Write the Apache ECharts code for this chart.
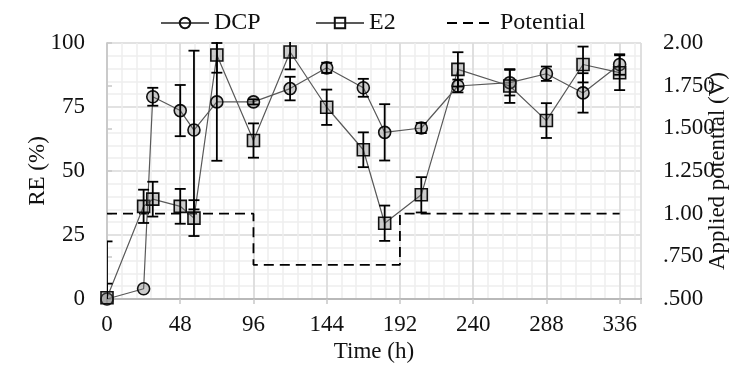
<!DOCTYPE html>
<html>
<head>
<meta charset="utf-8">
<script src="https://cdn.jsdelivr.net/npm/echarts@6/dist/echarts.min.js"></script>
<style>
  html, body {margin: 0; padding: 0; background: #fff;}
  #chart {width: 729px; height: 374px;}
</style>
</head>
<body>
<div id="chart"></div>
<script>
// 采样时间 (h)
const timeH = [0, 24, 30, 48, 57, 72, 96, 120, 144, 168, 182, 206, 230, 264, 288, 312, 336]
// DCP 去除率及误差
const dcpRE = [0, 4, 79, 73.6, 66, 77, 77, 82.2, 90.3, 82.5, 65.1, 66.8, 83.2, 84.5, 88, 80.5, 91.6]
const dcpErr = [6, 0, 3.5, 10, 31, 23, 1, 4.6, 2, 3.5, 11, 2, 2.5, 5, 2.8, 7.7, 4]
// E2 去除率及误差
const e2RE = [0.5, 36.2, 39, 36.2, 31.6, 95.3, 61.9, 96.5, 74.9, 58.3, 29.6, 40.7, 89.7, 83.2, 69.7, 91.6, 88.4]
const e2Err = [22, 6.5, 6.8, 6.8, 7, 6.9, 6.7, 6.8, 6.9, 6.8, 6.9, 6.9, 6.7, 6.6, 6.8, 7, 6.8]
// 施加电位 (V)
const potTime = [0, 96, 96, 192, 192, 336]
const potV = [1.0, 1.0, 0.7, 0.7, 1.0, 1.0]
// 右轴刻度文字（保留原图写法）
const rightLabels = {'2': '2.00', '1.75': '1.750', '1.5': '1.500', '1.25': '1.250', '1': '1.00', '0.75': '.750', '0.5': '.500'}

const font = "'Liberation Serif', 'Times New Roman', serif"
const txt = {color: '#111', fontFamily: font, fontSize: 23}
const legendTxt = {color: '#111', fontFamily: font, fontSize: 24}

// 误差棒
const errSeries = (vals, errs) => ({
  type: 'custom',
  xAxisIndex: 1,
  yAxisIndex: 0,
  z: 4,
  silent: true,
  data: timeH.map((t, i) => [t, vals[i] - errs[i], vals[i] + errs[i]]).filter((d, i) => errs[i] > 0),
  encode: {x: 0, y: [1, 2]},
  renderItem: (params, api) => {
    const x = api.value(0)
    const lo = api.coord([x, api.value(1)])
    const hi = api.coord([x, api.value(2)])
    const w = 5.5
    const cs = params.coordSys
    const st = {stroke: '#000', lineWidth: 1.8}
    return {
      type: 'group',
      clipPath: {type: 'rect', shape: {x: cs.x, y: cs.y - 1, width: cs.width, height: cs.height + 1}},
      children: [
        {type: 'line', shape: {x1: lo[0], y1: lo[1], x2: hi[0], y2: hi[1]}, style: st},
        {type: 'line', shape: {x1: hi[0] - w, y1: hi[1], x2: hi[0] + w, y2: hi[1]}, style: st},
        {type: 'line', shape: {x1: lo[0] - w, y1: lo[1], x2: lo[0] + w, y2: lo[1]}, style: st},
      ],
    }
  },
})

const legendBase = {top: 6, itemWidth: 48, itemHeight: 13, itemGap: 0, textStyle: legendTxt}

const chart = echarts.init(document.getElementById('chart'))
chart.setOption({
  animation: false,
  grid: {left: 107, right: 88, top: 43, bottom: 75, outerBoundsMode: 'none'},
  legend: [
    {...legendBase, left: 155, data: [{name: 'DCP', itemStyle: {color: 'rgba(0,0,0,0)'}}]},
    {...legendBase, left: 310, data: [{name: 'E2', itemStyle: {color: 'rgba(0,0,0,0)'}}]},
    {...legendBase, left: 441, data: [{name: 'Potential', itemStyle: {color: 'rgba(0,0,0,0)', borderWidth: 0}}]},
  ],
  xAxis: [
    {
      // 次网格线 + 顶部边框
      type: 'value',
      min: 0,
      max: 350,
      interval: 9.6,
      position: 'top',
      axisLine: {show: true, lineStyle: {color: '#8c8c8c', width: 2}},
      axisTick: {show: false},
      axisLabel: {show: false},
      splitLine: {show: true, lineStyle: {color: '#eeeeee', width: 1.5}},
    },
    {
      type: 'value',
      min: 0,
      max: 350,
      interval: 48,
      position: 'bottom',
      name: 'Time (h)',
      nameLocation: 'middle',
      nameGap: 41,
      nameTextStyle: txt,
      axisLine: {show: true, onZero: false, lineStyle: {color: '#c8c8c8', width: 1.5}},
      axisTick: {show: true, length: 5, lineStyle: {color: '#c8c8c8', width: 1.5}},
      axisLabel: {...txt, margin: 14, formatter: (v) => (v > 340 ? '' : v)},
      splitLine: {show: true, lineStyle: {color: '#d9d9d9', width: 1.5}},
    },
  ],
  yAxis: [
    {
      type: 'value',
      min: 0,
      max: 100,
      interval: 25,
      position: 'left',
      name: 'RE (%)',
      nameLocation: 'middle',
      nameRotate: 90,
      nameGap: 58,
      nameMoveOverlap: false,
      nameTextStyle: txt,
      axisLine: {show: true, lineStyle: {color: '#c8c8c8', width: 1.5}},
      axisTick: {show: false},
      axisLabel: {...txt, margin: 22},
      splitLine: {show: true, lineStyle: {color: '#d9d9d9', width: 1.5}},
      minorTick: {show: false, splitNumber: 5},
      minorSplitLine: {show: true, lineStyle: {color: '#eeeeee', width: 1.5}},
    },
    {
      type: 'value',
      min: 0.5,
      max: 2,
      interval: 0.25,
      position: 'right',
      name: 'Applied potential (V)',
      nameLocation: 'middle',
      nameRotate: 90,
      nameGap: 65,
      nameMoveOverlap: false,
      nameTextStyle: txt,
      axisLine: {show: true, lineStyle: {color: '#c8c8c8', width: 1.5}},
      axisTick: {show: true, length: 5, lineStyle: {color: '#c8c8c8', width: 1.5}},
      axisLabel: {...txt, margin: 22, formatter: (v) => rightLabels[String(+v.toFixed(2))] || v},
      splitLine: {show: false},
    },
  ],
  series: [
    {
      name: 'DCP',
      type: 'line',
      xAxisIndex: 1,
      yAxisIndex: 0,
      z: 3,
      data: timeH.map((t, i) => [t, dcpRE[i]]),
      symbol: 'circle',
      symbolSize: 12,
      lineStyle: {color: '#595959', width: 1.2},
      itemStyle: {color: 'rgba(110,110,110,0.35)', borderColor: '#111', borderWidth: 1.6},
    },
    {
      name: 'E2',
      type: 'line',
      xAxisIndex: 1,
      yAxisIndex: 0,
      z: 3,
      data: timeH.map((t, i) => [t, e2RE[i]]),
      symbol: 'rect',
      symbolSize: 12,
      lineStyle: {color: '#595959', width: 1.2},
      itemStyle: {color: 'rgba(110,110,110,0.35)', borderColor: '#111', borderWidth: 1.6},
    },
    {
      name: 'Potential',
      type: 'line',
      xAxisIndex: 1,
      yAxisIndex: 1,
      z: 2,
      data: potTime.map((t, i) => [t, potV[i]]),
      symbol: 'none',
      lineStyle: {color: '#000', width: 1.8, type: [10, 6]},
      itemStyle: {color: '#000'},
    },
    errSeries(dcpRE, dcpErr),
    errSeries(e2RE, e2Err),
  ],
})
</script>
</body>
</html>
